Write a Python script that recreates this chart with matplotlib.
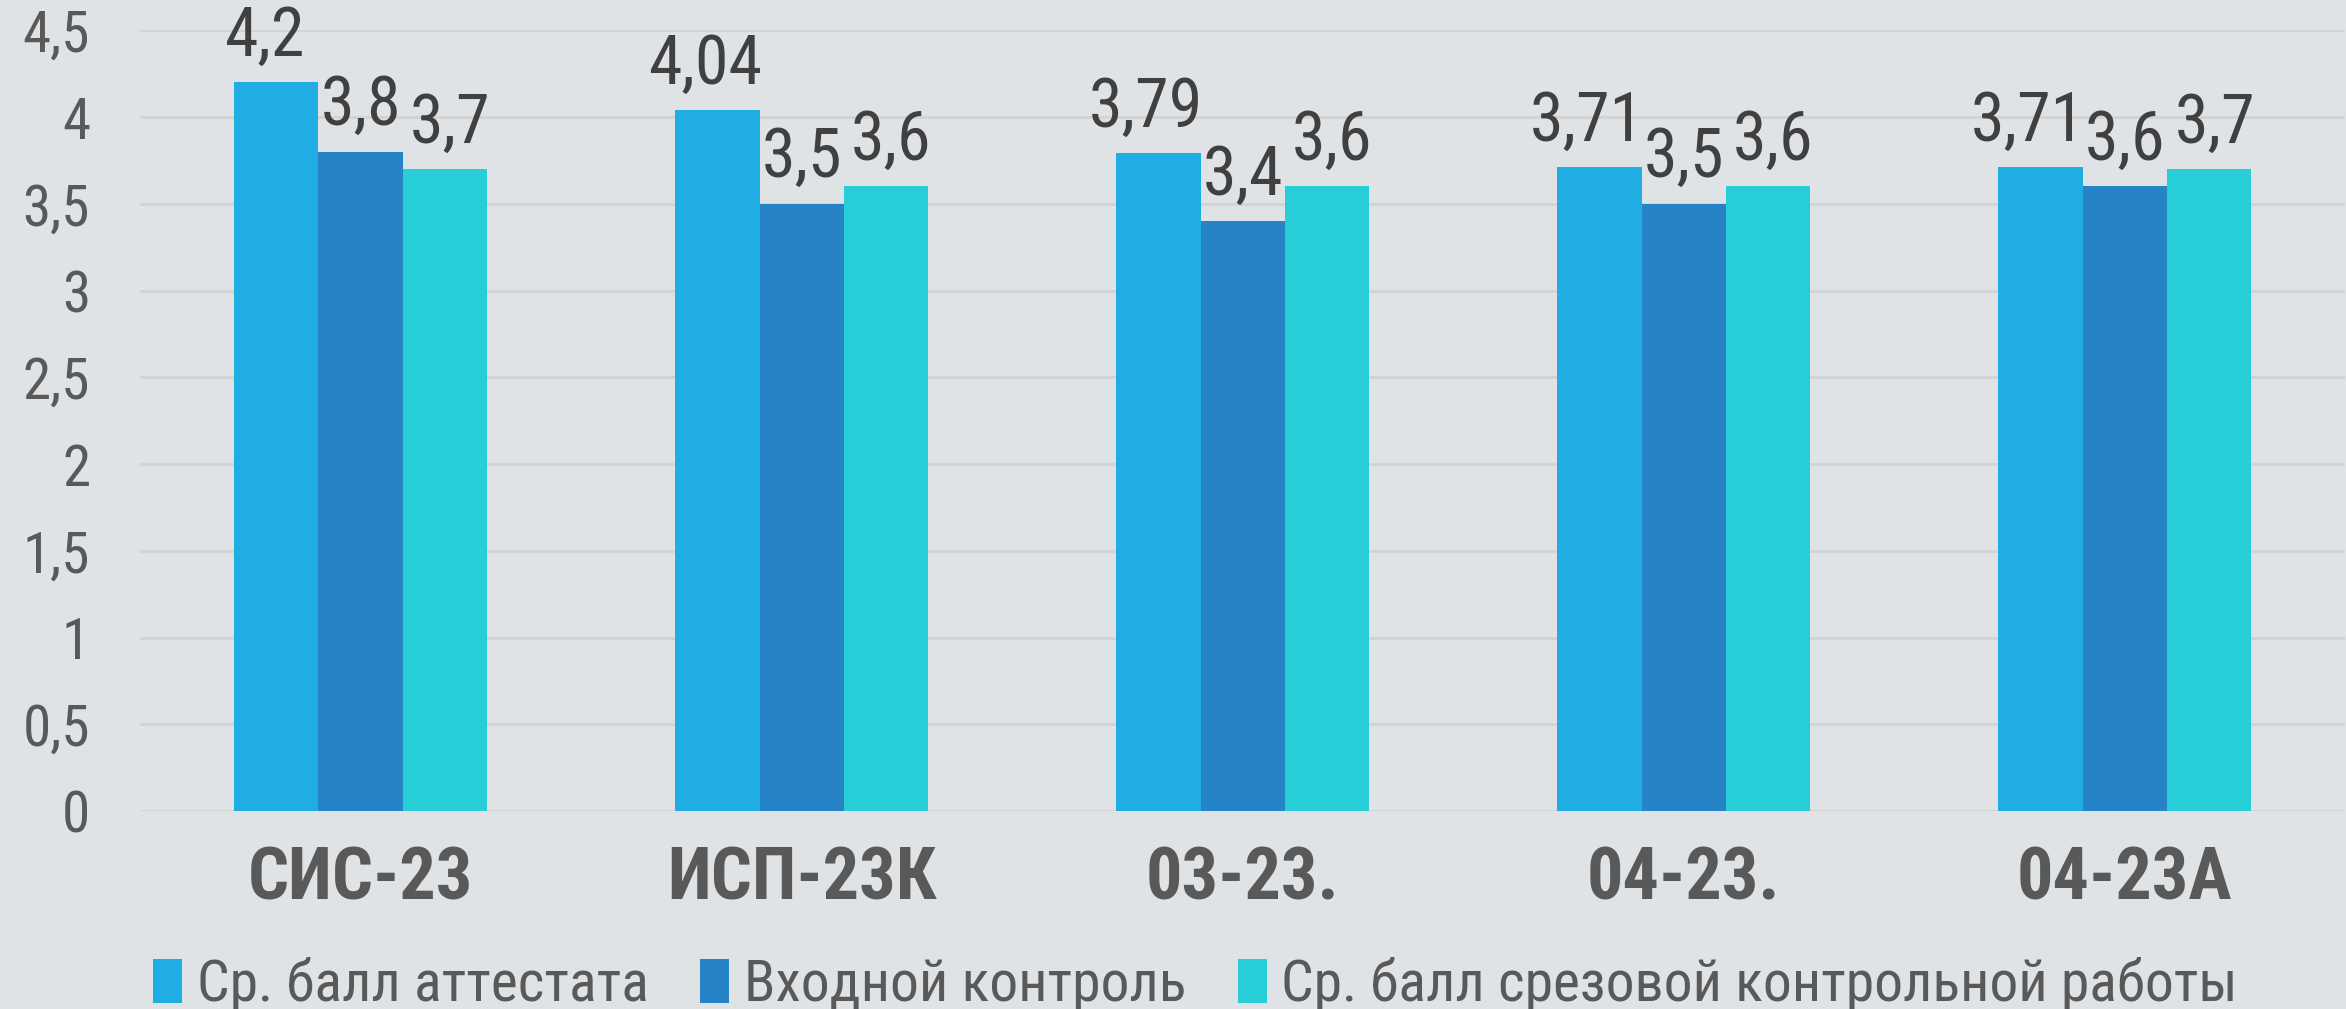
import numpy as np
import matplotlib
matplotlib.use("Agg")
import matplotlib.pyplot as plt
from matplotlib import font_manager

# Подбираем самый узкий из доступных шрифтов
names = {f.name for f in font_manager.fontManager.ttflist}
font = 'DejaVu Sans'
for cand in ['Roboto Condensed', 'Liberation Sans Narrow', 'Open Sans Condensed',
             'Noto Sans Condensed', 'Roboto', 'Liberation Sans']:
    if cand in names:
        font = cand
        break
plt.rcParams['font.family'] = [font, 'DejaVu Sans']

# Данные диаграммы
groups = ['СИС-23', 'ИСП-23К', '03-23.', '04-23.', '04-23А']
series_names = ['Ср. балл аттестата', 'Входной контроль', 'Ср. балл срезовой контрольной работы']
attestat = [4.2, 4.04, 3.79, 3.71, 3.71]
vhodnoy = [3.8, 3.5, 3.4, 3.5, 3.6]
srez = [3.7, 3.6, 3.6, 3.6, 3.7]
colors = ['#1FADE4', '#2683C6', '#27CED7']

bg = '#E0E3E6'
fig = plt.figure(figsize=(23.46, 10.09), dpi=100, facecolor=bg)
ax = fig.add_axes([0.0597, 0.196, 0.94, 0.774], facecolor=bg)

x = np.arange(len(groups))
w = 0.191
label_dx = [-9, 0, 4]  # сдвиг подписей, чтобы не налезали друг на друга
for i, (vals, name) in enumerate(zip([attestat, vhodnoy, srez], series_names)):
    pos = x + (i - 1) * w
    bars = ax.bar(pos, vals, width=w, color=colors[i], label=name, zorder=3)
    for b, v in zip(bars, vals):
        ax.annotate(f'{v:g}'.replace('.', ','), (b.get_x() + b.get_width() / 2, v),
                    xytext=(label_dx[i], 9), textcoords='offset points',
                    ha='center', va='bottom', fontsize=49, color='#404040', zorder=4)

ax.set_xlim(-0.5, len(groups) - 0.5)
ax.set_ylim(0, 4.5)
yt = np.arange(0, 4.51, 0.5)
ax.set_yticks(yt)
ax.set_yticklabels([f'{t:g}'.replace('.', ',') for t in yt], fontsize=41, color='#595959')
ax.set_xticks(x)
ax.set_xticklabels(groups, fontsize=52, fontweight='bold', color='#595959')
ax.tick_params(axis='y', length=0, pad=36)
ax.tick_params(axis='x', length=0, pad=25)
ax.grid(axis='y', color='#D3D3D3', linewidth=2, zorder=0)
for s in ax.spines.values():
    s.set_visible(False)

ax.legend(loc='center', bbox_to_anchor=(0.4786, -0.222), ncol=3, frameon=False,
          fontsize=41.5, labelcolor='#595959', handlelength=0.5, handleheight=0.8,
          handletextpad=0.25, columnspacing=0.9)

fig.savefig('out.png', dpi=100, facecolor=bg)
